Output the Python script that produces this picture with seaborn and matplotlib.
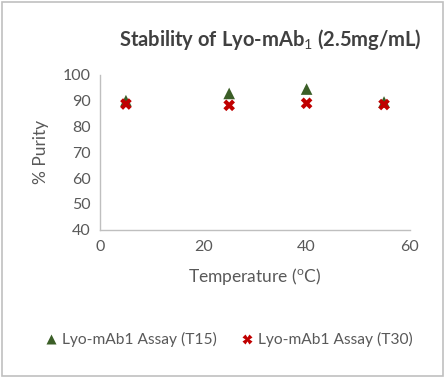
import matplotlib
matplotlib.use("Agg")
import matplotlib.pyplot as plt
from matplotlib.patches import Rectangle
import pandas as pd
import seaborn as sns

temperature = [5, 25, 40, 55]
purity_t15 = [90.0, 92.8, 94.5, 89.5]
purity_t30 = [88.7, 88.2, 89.0, 88.5]
series_names = ["Lyo-mAb1 Assay (T15)", "Lyo-mAb1 Assay (T30)"]

df = pd.DataFrame({
    "Temperature": temperature * 2,
    "Purity": purity_t15 + purity_t30,
    "Series": [series_names[0]] * 4 + [series_names[1]] * 4,
})

sns.set_theme(style="white")
plt.rcParams["font.family"] = ["Lato", "DejaVu Sans"]
plt.rcParams["mathtext.fontset"] = "custom"
plt.rcParams["mathtext.rm"] = "Lato"
plt.rcParams["mathtext.it"] = "Lato"
plt.rcParams["mathtext.bf"] = "Lato:bold"

fig = plt.figure(figsize=(4.45, 3.78), dpi=100)
ax = fig.add_axes([0.225, 0.392, 0.696, 0.410])

sns.scatterplot(data=df, x="Temperature", y="Purity", hue="Series", style="Series",
                markers={series_names[0]: "^", series_names[1]: "X"},
                palette={series_names[0]: "#3b5e27", series_names[1]: "#c00000"},
                s=70, edgecolor="none", ax=ax, legend=True)

ax.set_xlim(0, 60)
ax.set_ylim(40, 100)
ax.set_xticks([0, 20, 40, 60])
ax.set_yticks(range(40, 101, 10))
ax.tick_params(labelsize=11.5, colors="#595959", length=0, pad=7)
for side in ["top", "right"]:
    ax.spines[side].set_visible(False)
for side in ["left", "bottom"]:
    ax.spines[side].set_color("#bfbfbf")
    ax.spines[side].set_linewidth(1.0)
ax.set_xlabel("Temperature ($^o$C)", fontsize=12.5, color="#595959", labelpad=9)
ax.set_ylabel("% Purity", fontsize=12.5, color="#595959", labelpad=10)
ax.set_title("Stability of Lyo-mAb$_1$ (2.5mg/mL)", fontsize=14.5, color="#404040",
             fontweight="bold", x=0.55, pad=21)

handles, labels = ax.get_legend_handles_labels()
ax.legend(handles, labels, loc="center", bbox_to_anchor=(0.40, -0.71), ncol=2,
          frameon=False, fontsize=11.2, handletextpad=-0.3, columnspacing=0.9,
          markerscale=0.8, labelcolor="#595959", borderaxespad=0)

fig.patches.append(Rectangle((0.004, 0.004), 0.992, 0.992, transform=fig.transFigure,
                             fill=False, edgecolor="#c0c0c0", linewidth=1.2))

fig.savefig("out.png", dpi=100)
